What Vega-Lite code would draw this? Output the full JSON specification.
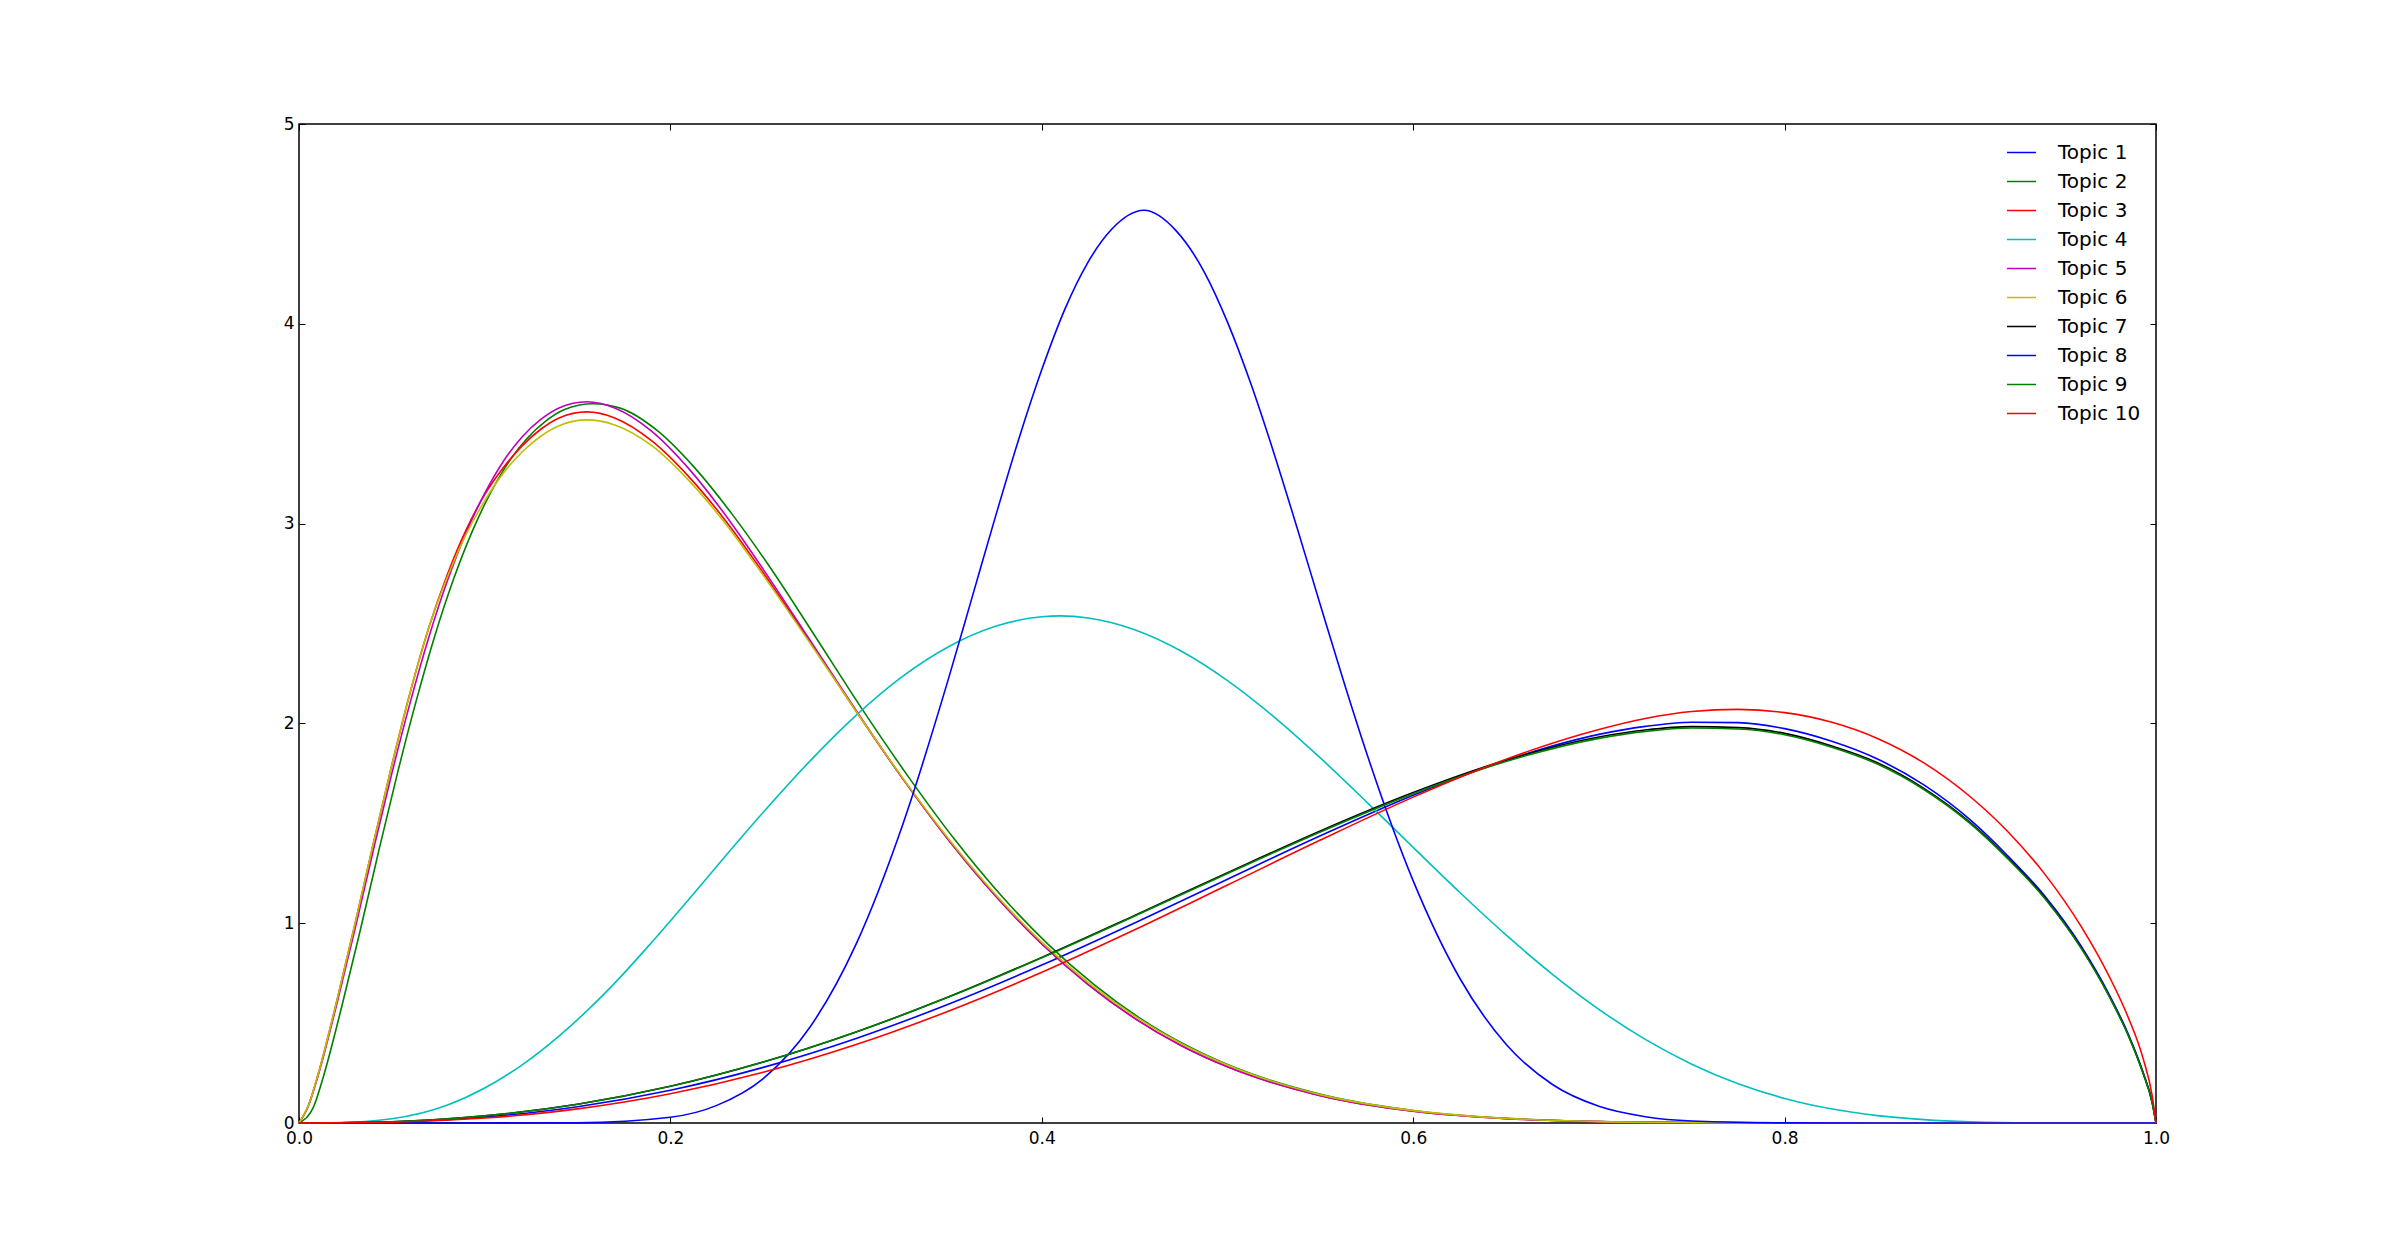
{
  "$schema": "https://vega.github.io/schema/vega-lite/v6.json",
  "width": 1857,
  "height": 999,
  "autosize": {"type": "none"},
  "padding": {"left": 299, "top": 124, "right": 239, "bottom": 125},
  "background": "white",
  "config": {"view": {"stroke": "black", "strokeWidth": 1.5}, "font": "DejaVu Sans"},
  "data": {"values": [
    {"topic":"Topic 1","x":0,"y":0},{"topic":"Topic 1","x":0.05,"y":0.0051},{"topic":"Topic 1","x":0.1,"y":0.0297},{"topic":"Topic 1","x":0.15,"y":0.0815},{"topic":"Topic 1","x":0.2,"y":0.1641},{"topic":"Topic 1","x":0.25,"y":0.2784},{"topic":"Topic 1","x":0.3,"y":0.4233},{"topic":"Topic 1","x":0.35,"y":0.5956},{"topic":"Topic 1","x":0.4,"y":0.7905},{"topic":"Topic 1","x":0.45,"y":1.0015},{"topic":"Topic 1","x":0.5,"y":1.2204},{"topic":"Topic 1","x":0.55,"y":1.4373},{"topic":"Topic 1","x":0.6,"y":1.6401},{"topic":"Topic 1","x":0.65,"y":1.815},{"topic":"Topic 1","x":0.7,"y":1.945},{"topic":"Topic 1","x":0.725,"y":1.985},{"topic":"Topic 1","x":0.75,"y":2.006},{"topic":"Topic 1","x":0.775,"y":2.004},{"topic":"Topic 1","x":0.8,"y":1.974},{"topic":"Topic 1","x":0.825,"y":1.912},{"topic":"Topic 1","x":0.85,"y":1.822},{"topic":"Topic 1","x":0.875,"y":1.692},{"topic":"Topic 1","x":0.9,"y":1.517},{"topic":"Topic 1","x":0.92,"y":1.339},{"topic":"Topic 1","x":0.94,"y":1.137},{"topic":"Topic 1","x":0.96,"y":0.881},{"topic":"Topic 1","x":0.975,"y":0.639},{"topic":"Topic 1","x":0.985,"y":0.447},{"topic":"Topic 1","x":0.993,"y":0.255},{"topic":"Topic 1","x":0.998,"y":0.102},{"topic":"Topic 1","x":1,"y":0},

    {"topic":"Topic 2","x":0,"y":0},{"topic":"Topic 2","x":0.008,"y":0.084},{"topic":"Topic 2","x":0.013,"y":0.228},{"topic":"Topic 2","x":0.023,"y":0.582},{"topic":"Topic 2","x":0.033,"y":0.965},{"topic":"Topic 2","x":0.043,"y":1.364},{"topic":"Topic 2","x":0.053,"y":1.75},{"topic":"Topic 2","x":0.063,"y":2.109},{"topic":"Topic 2","x":0.073,"y":2.434},{"topic":"Topic 2","x":0.083,"y":2.716},{"topic":"Topic 2","x":0.093,"y":2.955},{"topic":"Topic 2","x":0.103,"y":3.151},{"topic":"Topic 2","x":0.113,"y":3.309},{"topic":"Topic 2","x":0.123,"y":3.428},{"topic":"Topic 2","x":0.133,"y":3.514},{"topic":"Topic 2","x":0.143,"y":3.571},{"topic":"Topic 2","x":0.158,"y":3.6},{"topic":"Topic 2","x":0.173,"y":3.578},{"topic":"Topic 2","x":0.193,"y":3.465},{"topic":"Topic 2","x":0.213,"y":3.28},{"topic":"Topic 2","x":0.233,"y":3.05},{"topic":"Topic 2","x":0.253,"y":2.79},{"topic":"Topic 2","x":0.278,"y":2.435},{"topic":"Topic 2","x":0.303,"y":2.075},{"topic":"Topic 2","x":0.328,"y":1.735},{"topic":"Topic 2","x":0.353,"y":1.42},{"topic":"Topic 2","x":0.378,"y":1.14},{"topic":"Topic 2","x":0.403,"y":0.898},{"topic":"Topic 2","x":0.428,"y":0.694},{"topic":"Topic 2","x":0.453,"y":0.524},{"topic":"Topic 2","x":0.478,"y":0.388},{"topic":"Topic 2","x":0.503,"y":0.281},{"topic":"Topic 2","x":0.553,"y":0.137},{"topic":"Topic 2","x":0.603,"y":0.059},{"topic":"Topic 2","x":0.653,"y":0.022},{"topic":"Topic 2","x":0.703,"y":0.007},{"topic":"Topic 2","x":0.753,"y":0.002},{"topic":"Topic 2","x":0.8,"y":0.0004},{"topic":"Topic 2","x":0.9,"y":0},{"topic":"Topic 2","x":1,"y":0},

    {"topic":"Topic 3","x":0,"y":0},{"topic":"Topic 3","x":0.005,"y":0.086},{"topic":"Topic 3","x":0.01,"y":0.234},{"topic":"Topic 3","x":0.02,"y":0.597},{"topic":"Topic 3","x":0.03,"y":0.99},{"topic":"Topic 3","x":0.04,"y":1.398},{"topic":"Topic 3","x":0.05,"y":1.792},{"topic":"Topic 3","x":0.06,"y":2.16},{"topic":"Topic 3","x":0.07,"y":2.482},{"topic":"Topic 3","x":0.08,"y":2.748},{"topic":"Topic 3","x":0.09,"y":2.969},{"topic":"Topic 3","x":0.1,"y":3.145},{"topic":"Topic 3","x":0.11,"y":3.279},{"topic":"Topic 3","x":0.12,"y":3.388},{"topic":"Topic 3","x":0.13,"y":3.471},{"topic":"Topic 3","x":0.14,"y":3.529},{"topic":"Topic 3","x":0.155,"y":3.559},{"topic":"Topic 3","x":0.17,"y":3.529},{"topic":"Topic 3","x":0.19,"y":3.414},{"topic":"Topic 3","x":0.21,"y":3.234},{"topic":"Topic 3","x":0.23,"y":3.011},{"topic":"Topic 3","x":0.25,"y":2.754},{"topic":"Topic 3","x":0.275,"y":2.412},{"topic":"Topic 3","x":0.3,"y":2.061},{"topic":"Topic 3","x":0.325,"y":1.725},{"topic":"Topic 3","x":0.35,"y":1.414},{"topic":"Topic 3","x":0.375,"y":1.137},{"topic":"Topic 3","x":0.4,"y":0.896},{"topic":"Topic 3","x":0.425,"y":0.693},{"topic":"Topic 3","x":0.45,"y":0.524},{"topic":"Topic 3","x":0.475,"y":0.388},{"topic":"Topic 3","x":0.5,"y":0.281},{"topic":"Topic 3","x":0.55,"y":0.137},{"topic":"Topic 3","x":0.6,"y":0.059},{"topic":"Topic 3","x":0.65,"y":0.022},{"topic":"Topic 3","x":0.7,"y":0.007},{"topic":"Topic 3","x":0.75,"y":0.002},{"topic":"Topic 3","x":0.8,"y":0.0004},{"topic":"Topic 3","x":0.9,"y":0},{"topic":"Topic 3","x":1,"y":0},

    {"topic":"Topic 4","x":0,"y":0},{"topic":"Topic 4","x":0.02,"y":0.0011},{"topic":"Topic 4","x":0.05,"y":0.021},{"topic":"Topic 4","x":0.08,"y":0.09},{"topic":"Topic 4","x":0.1,"y":0.175},{"topic":"Topic 4","x":0.12,"y":0.29},{"topic":"Topic 4","x":0.14,"y":0.435},{"topic":"Topic 4","x":0.17,"y":0.7},{"topic":"Topic 4","x":0.19,"y":0.905},{"topic":"Topic 4","x":0.21,"y":1.12},{"topic":"Topic 4","x":0.23,"y":1.34},{"topic":"Topic 4","x":0.25,"y":1.555},{"topic":"Topic 4","x":0.275,"y":1.81},{"topic":"Topic 4","x":0.3,"y":2.04},{"topic":"Topic 4","x":0.325,"y":2.235},{"topic":"Topic 4","x":0.35,"y":2.385},{"topic":"Topic 4","x":0.375,"y":2.486},{"topic":"Topic 4","x":0.4,"y":2.5336},{"topic":"Topic 4","x":0.41,"y":2.538},{"topic":"Topic 4","x":0.425,"y":2.5275},{"topic":"Topic 4","x":0.45,"y":2.4689},{"topic":"Topic 4","x":0.475,"y":2.3624},{"topic":"Topic 4","x":0.5,"y":2.2143},{"topic":"Topic 4","x":0.525,"y":2.033},{"topic":"Topic 4","x":0.55,"y":1.8271},{"topic":"Topic 4","x":0.575,"y":1.6061},{"topic":"Topic 4","x":0.6,"y":1.3792},{"topic":"Topic 4","x":0.625,"y":1.1549},{"topic":"Topic 4","x":0.65,"y":0.9412},{"topic":"Topic 4","x":0.675,"y":0.7442},{"topic":"Topic 4","x":0.7,"y":0.5689},{"topic":"Topic 4","x":0.725,"y":0.4185},{"topic":"Topic 4","x":0.75,"y":0.2944},{"topic":"Topic 4","x":0.775,"y":0.1964},{"topic":"Topic 4","x":0.8,"y":0.1229},{"topic":"Topic 4","x":0.825,"y":0.0709},{"topic":"Topic 4","x":0.85,"y":0.0369},{"topic":"Topic 4","x":0.875,"y":0.0167},{"topic":"Topic 4","x":0.9,"y":0.0061},{"topic":"Topic 4","x":0.94,"y":0.0006},{"topic":"Topic 4","x":1,"y":0},

    {"topic":"Topic 5","x":0,"y":0},{"topic":"Topic 5","x":0.005,"y":0.084},{"topic":"Topic 5","x":0.01,"y":0.228},{"topic":"Topic 5","x":0.02,"y":0.582},{"topic":"Topic 5","x":0.03,"y":0.965},{"topic":"Topic 5","x":0.04,"y":1.364},{"topic":"Topic 5","x":0.05,"y":1.75},{"topic":"Topic 5","x":0.06,"y":2.109},{"topic":"Topic 5","x":0.07,"y":2.434},{"topic":"Topic 5","x":0.08,"y":2.716},{"topic":"Topic 5","x":0.09,"y":2.955},{"topic":"Topic 5","x":0.1,"y":3.151},{"topic":"Topic 5","x":0.11,"y":3.311},{"topic":"Topic 5","x":0.12,"y":3.432},{"topic":"Topic 5","x":0.13,"y":3.52},{"topic":"Topic 5","x":0.14,"y":3.579},{"topic":"Topic 5","x":0.155,"y":3.61},{"topic":"Topic 5","x":0.17,"y":3.579},{"topic":"Topic 5","x":0.19,"y":3.462},{"topic":"Topic 5","x":0.21,"y":3.274},{"topic":"Topic 5","x":0.23,"y":3.038},{"topic":"Topic 5","x":0.25,"y":2.771},{"topic":"Topic 5","x":0.275,"y":2.419},{"topic":"Topic 5","x":0.3,"y":2.065},{"topic":"Topic 5","x":0.325,"y":1.725},{"topic":"Topic 5","x":0.35,"y":1.414},{"topic":"Topic 5","x":0.375,"y":1.137},{"topic":"Topic 5","x":0.4,"y":0.896},{"topic":"Topic 5","x":0.425,"y":0.693},{"topic":"Topic 5","x":0.45,"y":0.524},{"topic":"Topic 5","x":0.475,"y":0.388},{"topic":"Topic 5","x":0.5,"y":0.281},{"topic":"Topic 5","x":0.55,"y":0.137},{"topic":"Topic 5","x":0.6,"y":0.059},{"topic":"Topic 5","x":0.65,"y":0.022},{"topic":"Topic 5","x":0.7,"y":0.007},{"topic":"Topic 5","x":0.75,"y":0.002},{"topic":"Topic 5","x":0.8,"y":0.0004},{"topic":"Topic 5","x":0.9,"y":0},{"topic":"Topic 5","x":1,"y":0},

    {"topic":"Topic 6","x":0,"y":0},{"topic":"Topic 6","x":0.005,"y":0.086},{"topic":"Topic 6","x":0.01,"y":0.234},{"topic":"Topic 6","x":0.02,"y":0.597},{"topic":"Topic 6","x":0.03,"y":0.99},{"topic":"Topic 6","x":0.04,"y":1.398},{"topic":"Topic 6","x":0.05,"y":1.792},{"topic":"Topic 6","x":0.06,"y":2.16},{"topic":"Topic 6","x":0.07,"y":2.482},{"topic":"Topic 6","x":0.08,"y":2.735},{"topic":"Topic 6","x":0.09,"y":2.946},{"topic":"Topic 6","x":0.1,"y":3.114},{"topic":"Topic 6","x":0.11,"y":3.252},{"topic":"Topic 6","x":0.12,"y":3.357},{"topic":"Topic 6","x":0.13,"y":3.436},{"topic":"Topic 6","x":0.14,"y":3.49},{"topic":"Topic 6","x":0.155,"y":3.519},{"topic":"Topic 6","x":0.17,"y":3.494},{"topic":"Topic 6","x":0.19,"y":3.39},{"topic":"Topic 6","x":0.21,"y":3.215},{"topic":"Topic 6","x":0.23,"y":2.996},{"topic":"Topic 6","x":0.25,"y":2.741},{"topic":"Topic 6","x":0.275,"y":2.405},{"topic":"Topic 6","x":0.3,"y":2.061},{"topic":"Topic 6","x":0.325,"y":1.728},{"topic":"Topic 6","x":0.35,"y":1.42},{"topic":"Topic 6","x":0.375,"y":1.145},{"topic":"Topic 6","x":0.4,"y":0.905},{"topic":"Topic 6","x":0.425,"y":0.703},{"topic":"Topic 6","x":0.45,"y":0.535},{"topic":"Topic 6","x":0.475,"y":0.398},{"topic":"Topic 6","x":0.5,"y":0.29},{"topic":"Topic 6","x":0.55,"y":0.142},{"topic":"Topic 6","x":0.6,"y":0.062},{"topic":"Topic 6","x":0.65,"y":0.023},{"topic":"Topic 6","x":0.7,"y":0.007},{"topic":"Topic 6","x":0.75,"y":0.002},{"topic":"Topic 6","x":0.8,"y":0.0004},{"topic":"Topic 6","x":0.9,"y":0},{"topic":"Topic 6","x":1,"y":0},

    {"topic":"Topic 7","x":0,"y":0},{"topic":"Topic 7","x":0.05,"y":0.0066},{"topic":"Topic 7","x":0.1,"y":0.0358},{"topic":"Topic 7","x":0.15,"y":0.0941},{"topic":"Topic 7","x":0.2,"y":0.1841},{"topic":"Topic 7","x":0.25,"y":0.3054},{"topic":"Topic 7","x":0.3,"y":0.4559},{"topic":"Topic 7","x":0.35,"y":0.6316},{"topic":"Topic 7","x":0.4,"y":0.829},{"topic":"Topic 7","x":0.45,"y":1.039},{"topic":"Topic 7","x":0.5,"y":1.253},{"topic":"Topic 7","x":0.55,"y":1.462},{"topic":"Topic 7","x":0.6,"y":1.654},{"topic":"Topic 7","x":0.65,"y":1.816},{"topic":"Topic 7","x":0.7,"y":1.932},{"topic":"Topic 7","x":0.725,"y":1.967},{"topic":"Topic 7","x":0.75,"y":1.984},{"topic":"Topic 7","x":0.775,"y":1.979},{"topic":"Topic 7","x":0.8,"y":1.95},{"topic":"Topic 7","x":0.825,"y":1.888},{"topic":"Topic 7","x":0.85,"y":1.803},{"topic":"Topic 7","x":0.875,"y":1.675},{"topic":"Topic 7","x":0.9,"y":1.504},{"topic":"Topic 7","x":0.92,"y":1.329},{"topic":"Topic 7","x":0.94,"y":1.129},{"topic":"Topic 7","x":0.96,"y":0.873},{"topic":"Topic 7","x":0.975,"y":0.632},{"topic":"Topic 7","x":0.985,"y":0.441},{"topic":"Topic 7","x":0.993,"y":0.25},{"topic":"Topic 7","x":0.998,"y":0.1},{"topic":"Topic 7","x":1,"y":0},

    {"topic":"Topic 8","x":0,"y":0},{"topic":"Topic 8","x":0.1,"y":0},{"topic":"Topic 8","x":0.15,"y":0.0014},{"topic":"Topic 8","x":0.2,"y":0.0289},{"topic":"Topic 8","x":0.225,"y":0.0882},{"topic":"Topic 8","x":0.25,"y":0.2223},{"topic":"Topic 8","x":0.275,"y":0.4777},{"topic":"Topic 8","x":0.3,"y":0.8956},{"topic":"Topic 8","x":0.325,"y":1.4907},{"topic":"Topic 8","x":0.35,"y":2.2316},{"topic":"Topic 8","x":0.3625,"y":2.632},{"topic":"Topic 8","x":0.375,"y":3.0336},{"topic":"Topic 8","x":0.3875,"y":3.42},{"topic":"Topic 8","x":0.4,"y":3.7708},{"topic":"Topic 8","x":0.4125,"y":4.075},{"topic":"Topic 8","x":0.425,"y":4.3104},{"topic":"Topic 8","x":0.4375,"y":4.472},{"topic":"Topic 8","x":0.455,"y":4.568},{"topic":"Topic 8","x":0.4725,"y":4.464},{"topic":"Topic 8","x":0.4875,"y":4.259},{"topic":"Topic 8","x":0.5,"y":4.0083},{"topic":"Topic 8","x":0.5125,"y":3.702},{"topic":"Topic 8","x":0.525,"y":3.3526},{"topic":"Topic 8","x":0.5375,"y":2.978},{"topic":"Topic 8","x":0.55,"y":2.5926},{"topic":"Topic 8","x":0.5625,"y":2.212},{"topic":"Topic 8","x":0.575,"y":1.849},{"topic":"Topic 8","x":0.6,"y":1.2118},{"topic":"Topic 8","x":0.625,"y":0.7258},{"topic":"Topic 8","x":0.65,"y":0.3943},{"topic":"Topic 8","x":0.675,"y":0.1926},{"topic":"Topic 8","x":0.7,"y":0.0835},{"topic":"Topic 8","x":0.725,"y":0.0316},{"topic":"Topic 8","x":0.75,"y":0.0103},{"topic":"Topic 8","x":0.8,"y":0.0006},{"topic":"Topic 8","x":0.85,"y":0},{"topic":"Topic 8","x":1,"y":0},

    {"topic":"Topic 9","x":0,"y":0},{"topic":"Topic 9","x":0.05,"y":0.0066},{"topic":"Topic 9","x":0.1,"y":0.0358},{"topic":"Topic 9","x":0.15,"y":0.0941},{"topic":"Topic 9","x":0.2,"y":0.1841},{"topic":"Topic 9","x":0.25,"y":0.3054},{"topic":"Topic 9","x":0.3,"y":0.4559},{"topic":"Topic 9","x":0.35,"y":0.6316},{"topic":"Topic 9","x":0.4,"y":0.8272},{"topic":"Topic 9","x":0.45,"y":1.0358},{"topic":"Topic 9","x":0.5,"y":1.249},{"topic":"Topic 9","x":0.55,"y":1.4569},{"topic":"Topic 9","x":0.6,"y":1.6481},{"topic":"Topic 9","x":0.65,"y":1.8093},{"topic":"Topic 9","x":0.7,"y":1.925},{"topic":"Topic 9","x":0.725,"y":1.9601},{"topic":"Topic 9","x":0.75,"y":1.9769},{"topic":"Topic 9","x":0.775,"y":1.9723},{"topic":"Topic 9","x":0.8,"y":1.9433},{"topic":"Topic 9","x":0.825,"y":1.882},{"topic":"Topic 9","x":0.85,"y":1.7963},{"topic":"Topic 9","x":0.875,"y":1.669},{"topic":"Topic 9","x":0.9,"y":1.4982},{"topic":"Topic 9","x":0.92,"y":1.324},{"topic":"Topic 9","x":0.94,"y":1.125},{"topic":"Topic 9","x":0.96,"y":0.87},{"topic":"Topic 9","x":0.975,"y":0.63},{"topic":"Topic 9","x":0.985,"y":0.44},{"topic":"Topic 9","x":0.993,"y":0.25},{"topic":"Topic 9","x":0.998,"y":0.1},{"topic":"Topic 9","x":1,"y":0},

    {"topic":"Topic 10","x":0,"y":0},{"topic":"Topic 10","x":0.05,"y":0.004},{"topic":"Topic 10","x":0.1,"y":0.0247},{"topic":"Topic 10","x":0.15,"y":0.0706},{"topic":"Topic 10","x":0.2,"y":0.1461},{"topic":"Topic 10","x":0.25,"y":0.2535},{"topic":"Topic 10","x":0.3,"y":0.3925},{"topic":"Topic 10","x":0.35,"y":0.5609},{"topic":"Topic 10","x":0.4,"y":0.7544},{"topic":"Topic 10","x":0.45,"y":0.9672},{"topic":"Topic 10","x":0.5,"y":1.191},{"topic":"Topic 10","x":0.55,"y":1.416},{"topic":"Topic 10","x":0.6,"y":1.631},{"topic":"Topic 10","x":0.65,"y":1.821},{"topic":"Topic 10","x":0.7,"y":1.9695},{"topic":"Topic 10","x":0.725,"y":2.0245},{"topic":"Topic 10","x":0.75,"y":2.0595},{"topic":"Topic 10","x":0.775,"y":2.0702},{"topic":"Topic 10","x":0.8,"y":2.0538},{"topic":"Topic 10","x":0.825,"y":2.0069},{"topic":"Topic 10","x":0.85,"y":1.9248},{"topic":"Topic 10","x":0.875,"y":1.8023},{"topic":"Topic 10","x":0.9,"y":1.6329},{"topic":"Topic 10","x":0.92,"y":1.4604},{"topic":"Topic 10","x":0.94,"y":1.2469},{"topic":"Topic 10","x":0.96,"y":0.979},{"topic":"Topic 10","x":0.975,"y":0.73},{"topic":"Topic 10","x":0.985,"y":0.5295},{"topic":"Topic 10","x":0.993,"y":0.3247},{"topic":"Topic 10","x":0.998,"y":0.1329},{"topic":"Topic 10","x":1,"y":0}
  ]},
  "layer": [
    {
      "mark": {"type": "line", "strokeWidth": 1.6, "interpolate": "monotone"},
      "encoding": {
        "x": {"field": "x", "type": "quantitative",
              "scale": {"domain": [0, 1], "nice": false, "zero": false},
              "axis": {"orient": "bottom", "values": [0, 0.2, 0.4, 0.6, 0.8, 1], "format": ".1f", "title": null, "grid": false,
                       "tickSize": -6, "tickColor": "black", "tickWidth": 1, "domain": false,
                       "labelFontSize": 17, "labelColor": "black", "labelPadding": 13, "labelFont": "DejaVu Sans",
                       "labelFlush": false, "labelOverlap": false}},
        "y": {"field": "y", "type": "quantitative",
              "scale": {"domain": [0, 5], "nice": false},
              "axis": {"orient": "left", "values": [0, 1, 2, 3, 4, 5], "format": "d", "title": null, "grid": false,
                       "tickSize": -6, "tickColor": "black", "tickWidth": 1, "domain": false,
                       "labelFontSize": 17, "labelColor": "black", "labelPadding": 11, "labelFont": "DejaVu Sans",
                       "labelFlush": false, "labelOverlap": false}},
        "color": {"field": "topic", "type": "nominal",
                  "scale": {"domain": ["Topic 1","Topic 2","Topic 3","Topic 4","Topic 5","Topic 6","Topic 7","Topic 8","Topic 9","Topic 10"],
                            "range": ["#0000ff","#008000","#ff0000","#00bfbf","#bf00bf","#bfbf00","#000000","#0000ff","#008000","#ff0000"]},
                  "legend": {"orient": "none", "legendX": 1707, "legendY": 13, "title": null,
                             "symbolType": "stroke", "symbolSize": 841, "symbolStrokeWidth": 1.5,
                             "labelFontSize": 20, "labelOffset": 21, "rowPadding": 3, "padding": 0,
                             "labelFont": "DejaVu Sans", "labelColor": "black"}}
      }
    },
    {
      "mark": {"type": "point", "opacity": 0},
      "encoding": {
        "x": {"field": "x", "type": "quantitative",
              "scale": {"domain": [0, 1], "nice": false, "zero": false},
              "axis": {"orient": "top", "values": [0, 0.2, 0.4, 0.6, 0.8, 1], "labels": false, "title": null, "grid": false,
                       "tickSize": -6, "tickColor": "black", "domain": false}},
        "y": {"field": "y", "type": "quantitative",
              "scale": {"domain": [0, 5], "nice": false},
              "axis": {"orient": "right", "values": [0, 1, 2, 3, 4, 5], "labels": false, "title": null, "grid": false,
                       "tickSize": -6, "tickColor": "black", "domain": false}}
      }
    }
  ],
  "resolve": {"axis": {"x": "independent", "y": "independent"}}
}
